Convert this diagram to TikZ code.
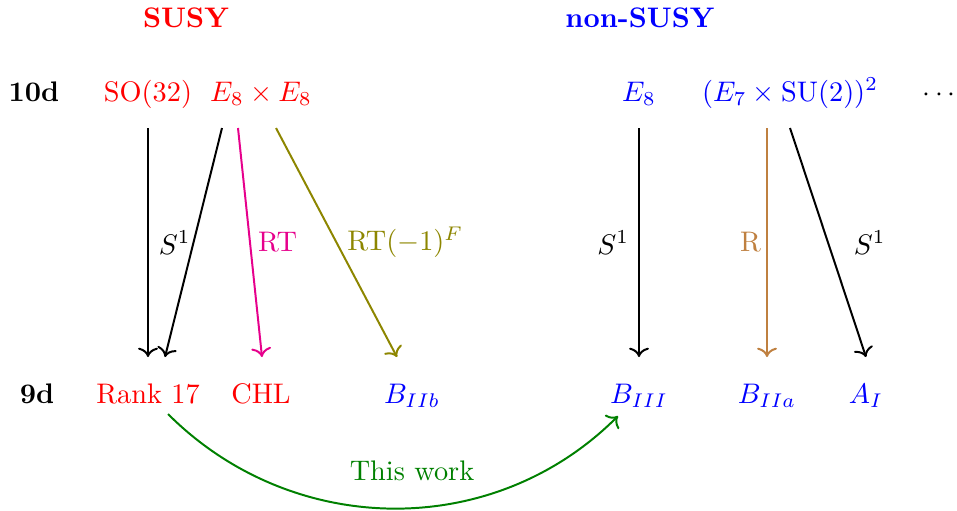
\documentclass[tikz,border=0pt]{standalone}
\usetikzlibrary{arrows.meta}
\begin{document}
\begin{tikzpicture}[x=0.3534pt,y=-0.3534pt,
  every node/.style={inner sep=0pt},
  txt/.style={anchor=base},
  lab/.style={inner sep=0pt},
  arr/.style={-{Computer Modern Rightarrow[length=3.3pt,width=7pt]}, line width=0.7pt},
  greenc/.style={green!50!black}]
\definecolor{pinkrt}{RGB}{230,0,140}
\useasboundingbox (0,0) rectangle (957,510);
% headers
\node[txt, text=red, font=\bfseries] (susy) at (186,27) {SUSY};
\node[txt, text=blue, font=\bfseries] (nonsusy) at (640,27) {non-SUSY};
\node[txt, font=\bfseries] (d10) at (34,101) {10d};
\node[txt, font=\bfseries] (d9) at (37,403) {9d};
% 10d row
\node[txt, text=red] (so) at (148,101) {SO(32)};
\node[txt, text=red] (ee) at (261,101) {$E_8\times E_8$};
\node[txt, text=blue] (e8) at (639,101) {$E_8$};
\node[txt, text=blue] (e7) at (790,101) {$(E_7\times\mathrm{SU}(2))^2$};
\node[txt] (dots) at (939,101) {$\cdots$};
% 9d row
\node[txt, text=red] (rank) at (148,403) {Rank 17};
\node[txt, text=red] (chl) at (261,403) {CHL};
\node[txt, text=blue] (biib) at (412,403) {$B_{IIb}$};
\node[txt, text=blue] (biii) at (639,403) {$B_{III}$};
\node[txt, text=blue] (biia) at (767,403) {$B_{IIa}$};
\node[txt, text=blue] (ai) at (866,403) {$A_I$};
% arrows
\draw[arr] ([shift={(0,27)}]so.base) -- node[lab, pos=.5, right=3.5pt] {$S^1$} ([shift={(0,-46)}]rank.base);
\draw[arr] ([shift={(-39,27)}]ee.base) -- ([shift={(17,-46)}]rank.base);
\draw[arr, pinkrt] ([shift={(-23,27)}]ee.base) -- node[lab, pos=.5, right=2.5pt] {RT} ([shift={(1,-46)}]chl.base);
\draw[arr, olive] ([shift={(15,27)}]ee.base) -- node[lab, pos=.5, right=3.5pt] {RT$(-1)^F$} ([shift={(-15,-46)}]biib.base);
\draw[arr] ([shift={(0,27)}]e8.base) -- node[lab, pos=.5, left=3.2pt] {$S^1$} ([shift={(0,-46)}]biii.base);
\draw[arr, brown] ([shift={(-23,27)}]e7.base) -- node[lab, pos=.5, left=1.8pt] {R} ([shift={(0,-46)}]biia.base);
\draw[arr] ([shift={(0,27)}]e7.base) -- node[lab, pos=.5, right=8.8pt] {$S^1$} ([shift={(0,-46)}]ai.base);
\draw[arr, greenc] ([shift={(20,11)}]rank.base) to[out=-45, in=-135] ([shift={(-21,13)}]biii.base);
\node[txt, text=green!50!black] (thiswork) at (412,480) {This work};
\end{tikzpicture}
\end{document}
